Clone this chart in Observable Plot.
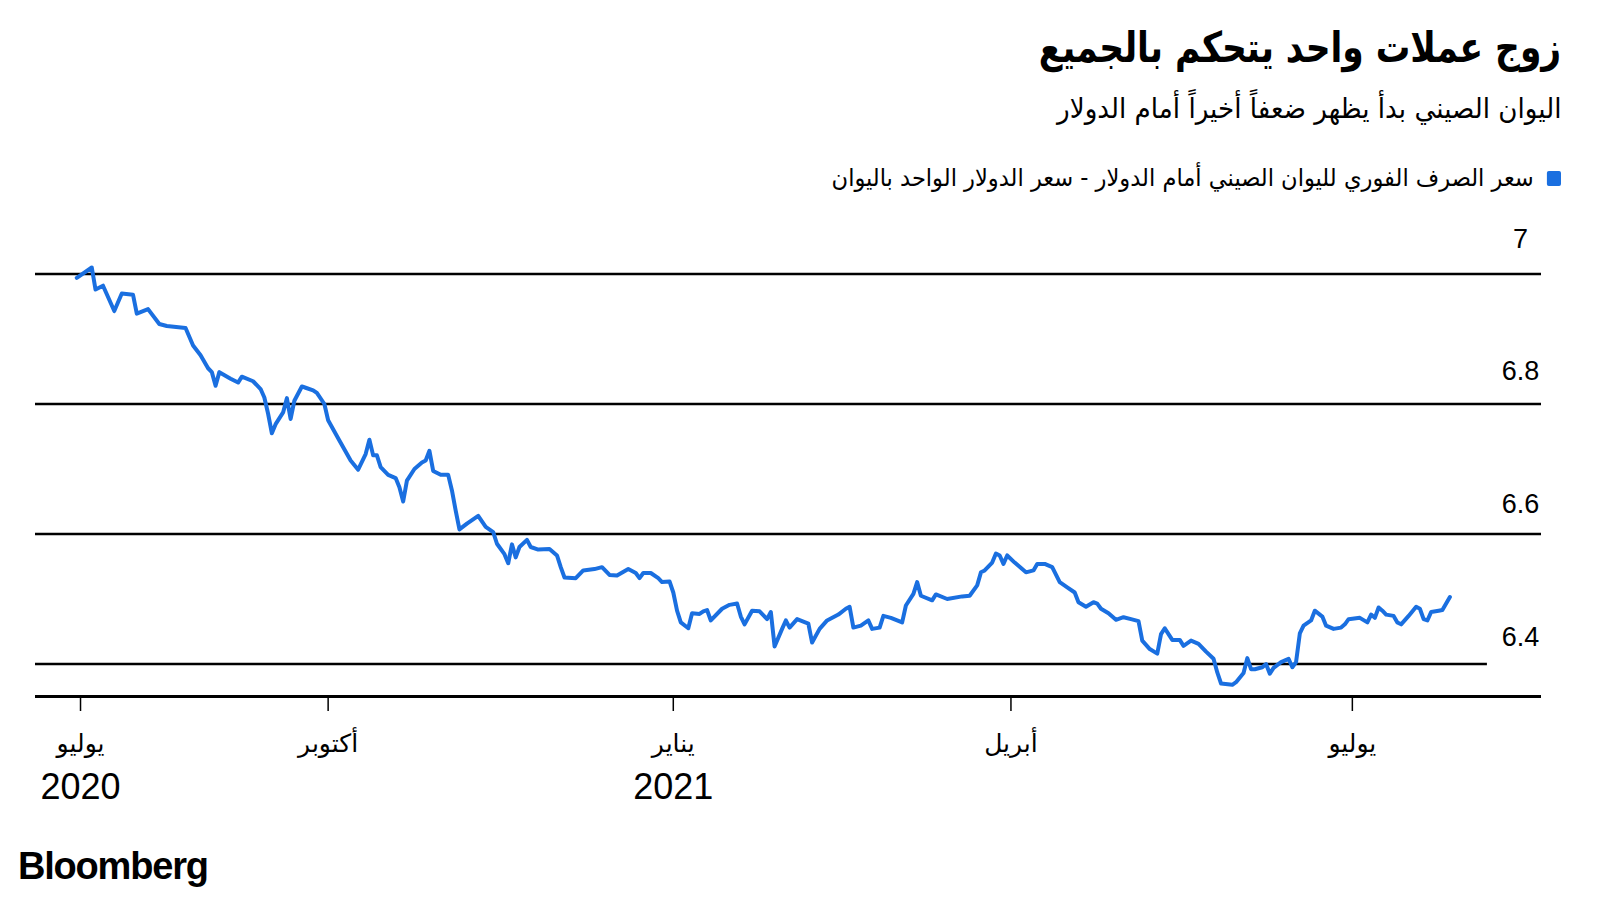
<!DOCTYPE html>
<html><head><meta charset="utf-8">
<script src="https://cdn.jsdelivr.net/npm/d3@7"></script>
<script src="https://cdn.jsdelivr.net/npm/@observablehq/plot@0.6"></script>
<style>
html,body{margin:0;padding:0;background:#fff;}
body{width:1600px;height:900px;position:relative;overflow:hidden;font-family:"Liberation Sans",Arial,sans-serif;color:#000;}
.ar{position:absolute;direction:rtl;white-space:nowrap;font-family:"DejaVu Sans",sans-serif;line-height:1;transform-origin:right center;}
#title{right:39px;top:27px;font-size:42px;font-weight:bold;transform:scaleX(0.82);}
#subtitle{right:39px;top:95px;font-size:28px;transform:scaleX(0.935);}
#legend{right:39px;top:166px;font-size:24px;display:flex;align-items:center;gap:14px;transform:scaleX(0.94);}
#legend .sw{width:15px;height:15px;background:#1a6fe0;border-radius:2px;display:inline-block;}
#chart{position:absolute;left:0;top:200px;}
#logo{position:absolute;left:18px;top:847px;font-family:"Liberation Sans",Arial,sans-serif;font-weight:bold;font-size:38px;letter-spacing:-1.2px;line-height:1;}
</style></head>
<body>
<div id="title" class="ar">زوج عملات واحد يتحكم بالجميع</div>
<div id="subtitle" class="ar">اليوان الصيني بدأ يظهر ضعفاً أخيراً أمام الدولار</div>
<div id="legend" class="ar"><span class="sw"></span><span>سعر الصرف الفوري لليوان الصيني أمام الدولار - سعر الدولار الواحد باليوان</span></div>
<div id="chart"></div>
<div id="logo">Bloomberg</div>
<script>
const fxDates = ["2020-07-26","2020-07-30","2020-07-31","2020-08-02","2020-08-05","2020-08-07","2020-08-10","2020-08-11","2020-08-14","2020-08-17","2020-08-19","2020-08-24","2020-08-26","2020-08-28","2020-08-30","2020-08-31","2020-09-01","2020-09-02","2020-09-05","2020-09-07","2020-09-08","2020-09-11","2020-09-13","2020-09-14","2020-09-15","2020-09-16","2020-09-17","2020-09-19","2020-09-20","2020-09-21","2020-09-22","2020-09-24","2020-09-25","2020-09-27","2020-09-28","2020-09-30","2020-10-01","2020-10-04","2020-10-07","2020-10-09","2020-10-11","2020-10-12","2020-10-13","2020-10-14","2020-10-15","2020-10-17","2020-10-19","2020-10-20","2020-10-21","2020-10-22","2020-10-24","2020-10-26","2020-10-27","2020-10-28","2020-10-29","2020-10-31","2020-11-02","2020-11-03","2020-11-04","2020-11-05","2020-11-07","2020-11-10","2020-11-12","2020-11-14","2020-11-15","2020-11-17","2020-11-18","2020-11-19","2020-11-20","2020-11-21","2020-11-23","2020-11-24","2020-11-26","2020-11-29","2020-12-01","2020-12-02","2020-12-03","2020-12-06","2020-12-08","2020-12-11","2020-12-13","2020-12-15","2020-12-17","2020-12-20","2020-12-22","2020-12-23","2020-12-24","2020-12-26","2020-12-28","2020-12-29","2020-12-31","2021-01-01","2021-01-02","2021-01-03","2021-01-05","2021-01-06","2021-01-08","2021-01-09","2021-01-10","2021-01-11","2021-01-14","2021-01-16","2021-01-18","2021-01-19","2021-01-20","2021-01-22","2021-01-24","2021-01-26","2021-01-27","2021-01-28","2021-01-30","2021-01-31","2021-02-01","2021-02-03","2021-02-06","2021-02-07","2021-02-09","2021-02-11","2021-02-14","2021-02-16","2021-02-17","2021-02-18","2021-02-20","2021-02-22","2021-02-23","2021-02-25","2021-02-26","2021-02-28","2021-03-03","2021-03-04","2021-03-06","2021-03-07","2021-03-08","2021-03-11","2021-03-12","2021-03-15","2021-03-19","2021-03-21","2021-03-23","2021-03-24","2021-03-25","2021-03-27","2021-03-28","2021-03-29","2021-03-30","2021-03-31","2021-04-02","2021-04-04","2021-04-05","2021-04-07","2021-04-08","2021-04-10","2021-04-12","2021-04-14","2021-04-16","2021-04-18","2021-04-19","2021-04-21","2021-04-23","2021-04-24","2021-04-25","2021-04-27","2021-04-29","2021-05-01","2021-05-03","2021-05-05","2021-05-06","2021-05-08","2021-05-10","2021-05-11","2021-05-12","2021-05-13","2021-05-14","2021-05-16","2021-05-17","2021-05-19","2021-05-21","2021-05-23","2021-05-25","2021-05-26","2021-05-27","2021-05-30","2021-05-31","2021-06-02","2021-06-03","2021-06-04","2021-06-05","2021-06-07","2021-06-08","2021-06-09","2021-06-10","2021-06-12","2021-06-14","2021-06-15","2021-06-16","2021-06-17","2021-06-18","2021-06-20","2021-06-21","2021-06-23","2021-06-24","2021-06-26","2021-06-28","2021-06-29","2021-06-30","2021-07-03","2021-07-05","2021-07-06","2021-07-07","2021-07-08","2021-07-09","2021-07-10","2021-07-12","2021-07-13","2021-07-14","2021-07-16","2021-07-18","2021-07-19","2021-07-20","2021-07-21","2021-07-22","2021-07-24","2021-07-25","2021-07-27"];
const fxValues = [6.994,7.010,6.976,6.982,6.943,6.970,6.968,6.939,6.946,6.923,6.920,6.917,6.890,6.875,6.855,6.849,6.828,6.849,6.839,6.833,6.842,6.835,6.823,6.810,6.785,6.755,6.769,6.787,6.809,6.777,6.805,6.827,6.825,6.821,6.817,6.800,6.775,6.744,6.713,6.699,6.723,6.745,6.721,6.721,6.703,6.691,6.686,6.672,6.650,6.682,6.700,6.710,6.713,6.728,6.697,6.691,6.691,6.667,6.636,6.607,6.616,6.628,6.611,6.603,6.585,6.569,6.555,6.584,6.564,6.580,6.591,6.580,6.576,6.577,6.567,6.549,6.533,6.532,6.544,6.546,6.549,6.537,6.536,6.546,6.540,6.532,6.540,6.540,6.532,6.526,6.527,6.510,6.482,6.464,6.455,6.478,6.477,6.481,6.483,6.467,6.485,6.491,6.493,6.473,6.461,6.482,6.481,6.469,6.480,6.427,6.454,6.467,6.456,6.469,6.462,6.433,6.454,6.467,6.476,6.485,6.488,6.456,6.459,6.467,6.454,6.456,6.474,6.471,6.464,6.490,6.508,6.526,6.505,6.498,6.507,6.500,6.504,6.505,6.521,6.541,6.544,6.556,6.570,6.567,6.554,6.567,6.556,6.546,6.541,6.544,6.554,6.554,6.549,6.526,6.518,6.510,6.495,6.488,6.495,6.493,6.485,6.478,6.468,6.472,6.469,6.466,6.436,6.423,6.416,6.446,6.455,6.446,6.437,6.437,6.428,6.436,6.431,6.419,6.408,6.387,6.370,6.368,6.372,6.386,6.409,6.392,6.392,6.395,6.400,6.385,6.394,6.403,6.408,6.395,6.403,6.447,6.459,6.467,6.482,6.473,6.459,6.454,6.456,6.461,6.469,6.471,6.464,6.476,6.471,6.487,6.482,6.476,6.474,6.464,6.461,6.474,6.488,6.485,6.469,6.467,6.480,6.482,6.483,6.503];

const yTicks = [6.4, 6.6, 6.8, 7];
const yTickLabels = ["6.4", "6.6", "6.8", "7"];
const xTickDates = ["2020-07-27", "2020-10-01", "2021-01-01", "2021-04-01", "2021-07-01"];
const xTickMonths = ["يوليو", "أكتوبر", "يناير", "أبريل", "يوليو"];
const yearDates = ["2020-07-27", "2021-01-01"];
const yearLabels = ["2020", "2021"];
const xDomain = ["2020-07-15", "2021-08-20T10:00"];
const yDomain = [6.35, 7.05];
const shortGridEnd = "2021-08-06";

const parse = d3.utcParse("%Y-%m-%d");
const parseT = s => s.length > 10 ? new Date(s + "Z") : parse(s);
const data = fxDates.map((d, i) => ({date: parse(d), value: fxValues[i]}));
const ticks = xTickDates.map((d, i) => ({date: parse(d), label: xTickMonths[i]}));
const years = yearDates.map((d, i) => ({date: parse(d), label: yearLabels[i]}));
const blue = "#1a6fe0";

const marks = [
  Plot.ruleY(yTicks.filter(t => t !== 6.4), {y: d => d, stroke: "#000", strokeWidth: 2.5}),
  Plot.ruleY([6.4], {y: d => d, x1: () => parseT(xDomain[0]), x2: () => parse(shortGridEnd), stroke: "#000", strokeWidth: 2.5}),
  Plot.ruleY([yDomain[0]], {y: d => d, stroke: "#000", strokeWidth: 3.2}),
  Plot.ruleX(ticks, {x: "date", y1: () => yDomain[0], y2: () => yDomain[0], insetBottom: -15, stroke: "#000", strokeWidth: 1.5}),
  Plot.text(ticks, {x: "date", y: () => yDomain[0], text: "label", dy: 47, fontSize: 25, fontFamily: "DejaVu Sans", lineAnchor: "middle", fill: "#000"}),
  Plot.text(years, {x: "date", y: () => yDomain[0], text: "label", dy: 91, fontSize: 36, fontFamily: "Liberation Sans", lineAnchor: "middle", fill: "#000"}),
  ...yTicks.map((t, i) => Plot.text([t], {y: d => d, frameAnchor: "right", dx: -21, dy: -27 - (t - 6.4) / 0.6 * 8, text: () => yTickLabels[i], fontSize: 27, fontFamily: "Liberation Sans", textAnchor: "middle", lineAnchor: "middle", fill: "#000"})),
  Plot.line(data, {x: "date", y: "value", stroke: blue, strokeWidth: 4, strokeLinejoin: "round", strokeLinecap: "round"})
];

const chart = Plot.plot({
  width: 1600,
  height: 610,
  marginLeft: 35,
  marginRight: 59,
  marginTop: 41,
  marginBottom: 114,
  x: {type: "utc", domain: xDomain.map(parseT), axis: null},
  y: {domain: yDomain, axis: null},
  style: {background: "transparent", overflow: "visible"},
  marks
});
document.getElementById("chart").appendChild(chart);
</script>
</body></html>
